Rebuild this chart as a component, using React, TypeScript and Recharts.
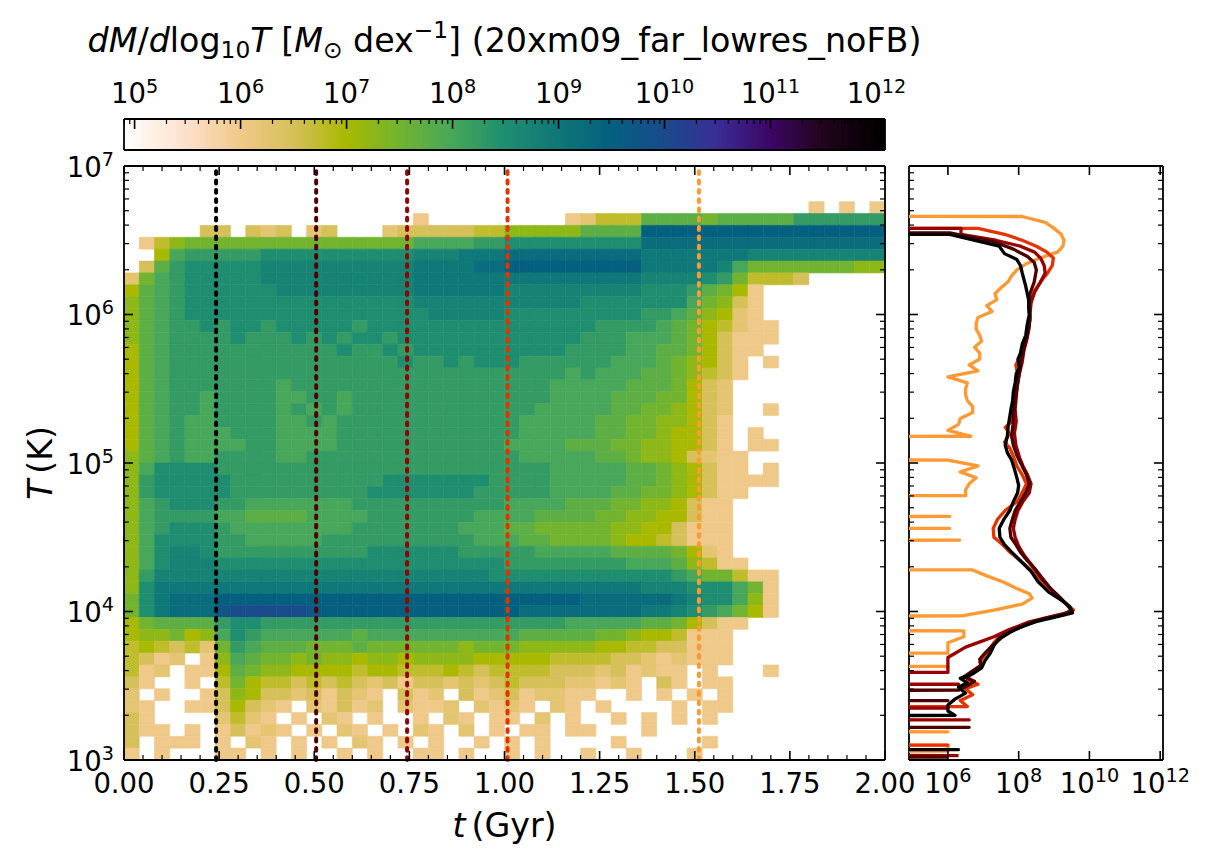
import React from 'react';
import { ScatterChart, Scatter, XAxis, YAxis, ReferenceArea, ReferenceLine } from 'recharts';

const FONT = '"DejaVu Sans", "Liberation Sans", sans-serif';
const TICK_FS = 27.5;
const LABEL_FS = 33.3;

// ---------------- data ----------------
// snapshot times (Gyr) marked by dotted lines, and their profiles in the side panel
const snapshotTimes = [0.242, 0.505, 0.744, 1.008, 1.511];
const snapshotColors = ['#000000', '#4c0000', '#990000', '#e53300', '#ff9933'];

// 2D histogram: columns = time bins of 0.04 Gyr from 0, rows = log10 T bins of 0.08 dex from 7 downward
const tBinWidth = 0.04;
const logTTop = 7;
const logTBinHeight = 0.08;
// '.' = empty bin, otherwise log10(dM/dlog10T) = 6 + 0.25 * index in LEVELS
const LEVELS = '0123456789abcdefg';
const heatRows = [
  '.......... .......... .......... .......... ..........',
  '.......... .......... .......... .......... ..........',
  '.......... .......... .......... .......... ..........',
  '.......... .......... .......... .......... .....0.0.0',
  '.......... .........0 .........0 1333777767 7777999999',
  '.....22.21 2.12...122 2223355555 7777eeeeee eeeeeeeeee',
  '.035666666 6666666668 88899aaaaa aaaadddddd dddddddddd',
  '..4899999a aaaaaaaaab bbcccddddd ddddcccccc cbbbbbbbbb',
  '.279aaaaab bbbbbbbbbc cccddeeeee eeeecccccb 8666666655',
  '1689aaaaab bbbbbbbbbc cccccccccc ccccbbbba9 63332.....',
  '4789aaaaaa bbbbbbbbbc cccccbbbbb bbbbaaa976 40........',
  '5789aaaaaa aaaaaaaaab bbbbbbbbbb aaaaaaa865 20........',
  '5789aaaaaa aaaaaaaaaa bbbbbaaaaa aaaa998754 10........',
  '57899a9aa9 aaaaa9aaaa aaaaaaaaaa a999987643 100.......',
  '5789999a99 9a9a9aa9aa aaaaaaaaaa 9998887642 000.......',
  '4789999999 9999a99a9a aaaaaaaaa9 9998877642 00........',
  '4789999999 99999999a9 9a9aaa9999 9988876542 0.0.......',
  '4789999999 9999999999 9999999998 9888776532 0.........',
  '4789999999 8999999999 9999999988 8887776421 ..........',
  '4789989999 8899899999 9999999988 8877766421 ..........',
  '4789989999 8989899999 9999999888 8877665421 ..0.......',
  '4789889999 8898999999 9999998888 8776655420 ..........',
  '4789888999 8888999999 9999998888 8776654420 .0........',
  '4789888899 8888999999 9999988887 7766554420 .00.......',
  '5789889999 8899999999 9999998888 8776554210 0.........',
  '58aaaa9999 9999999999 9999999988 8887765420 0.0.......',
  '59aaaaa999 9999999aaa aaaa999988 8887765420 000.......',
  '59aaaaa999 999999aaaa aaa9999988 8877665420 0.........',
  '589aaa9988 8888899999 9999988887 7766554200 ..........',
  '5899998877 7788889999 9998888777 7665544200 ..........',
  '589aaa9888 8888899999 9988877666 6655442000 ..........',
  '58aaaa9988 8889999999 9998887766 6654432000 ..........',
  '58abba9999 999999aaaa aa99999888 8877776410 ..........',
  '58abbbaaaa aaaaaaaaaa aaaaa99999 9998887530 0.........',
  '59bbbbbbbb bbbbbbbbbb bbbbaaaaaa aaaaaa9866 300.......',
  '5acccccccc cccccccccc cccccccccc ccccbbbaaa 860.......',
  '6acdddeeee eeeeeeeeee eeeeeeeeee ddddddcbaa 850.......',
  '6acdddfggg ggfeeeeeee eeeeeedddd ddddccba98 640.......',
  '4677779aa9 9999999999 9999999998 8888776420 0.........',
  '4556458a98 8888878888 8888887777 7665443000 ..........',
  '3432316987 7766676666 6656665555 5443322000 ..........',
  '3201.05876 6565545545 5554444433 3322101000 ..........',
  '301.004765 5444434433 3432333322 2120100.0. ..0.......',
  '20..0.3643 3232321202 2121232221 1010.20.00 ..........',
  '1.0..02542 2120210.20 1.20120110 0..0.0.0.0 ..........',
  '10..002421 0.10201.10 01.1010.10 .0....0.00 ..........',
  '20....1310 .0.10.0..0 .10.00.1.0 ..0.0.0.0. ..........',
  '200.0.0201 0.0.10.0.1 0.1.0.00.0 0...0..... ..........',
  '2.000.0.10 .0.0.10.0. 0..0.0.0.. ..0.....0. ..........',
  '0.0...00.0 .0..0.0..0 0.0..0.0.. 0..0...0.. ..........',
];

// side-panel profiles: [log10 T, log10 dM/dlog10T]; null = empty bin
type P = [number, number | null];
const profile024: P[] = [
  [6.58, null], [6.54, 6.05], [6.46, 7.45], [6.41, 7.6], [6.37, 7.95], [6.33, 8.05], [6.28, 8.1], [6.19, 8.2],
  [6.10, 8.28], [6.0, 8.3], [5.93, 8.24], [5.86, 8.2], [5.80, 8.1], [5.74, 8.05], [5.70, 7.98], [5.64, 8.02],
  [5.60, 7.93], [5.54, 7.9], [5.48, 7.85], [5.42, 7.83], [5.36, 7.78], [5.30, 7.74], [5.24, 7.7], [5.18, 7.68],
  [5.12, 7.62], [5.07, 7.68], [5.02, 7.8], [4.96, 7.88], [4.90, 7.95], [4.85, 8.0], [4.80, 7.97], [4.74, 7.85],
  [4.68, 7.75], [4.62, 7.58], [4.56, 7.45], [4.50, 7.47], [4.45, 7.6], [4.40, 7.8], [4.33, 8.1], [4.27, 8.35],
  [4.20, 8.55], [4.13, 8.85], [4.07, 9.25], [4.03, 9.45], [3.99, 9.52], [3.96, 9.0], [3.93, 8.45], [3.88, 7.9],
  [3.82, 7.45], [3.77, 7.3], [3.72, 7.2], [3.67, 7.05], [3.62, 6.95], [3.58, 6.7], [3.55, 6.35], [3.52, 6.55],
  [3.49, 6.3], [3.45, 6.5], [3.41, 6.2], [3.37, 6.0], [3.33, 6.0], [3.30, 6.2], [3.26, null], [3.11, null],
  [3.07, 6.3], [3.03, null],
];
const profile050: P[] = [
  [6.59, null], [6.55, 6.05], [6.49, 7.3], [6.44, 7.85], [6.39, 8.25], [6.35, 8.44], [6.30, 8.5], [6.22, 8.44],
  [6.14, 8.32], [6.06, 8.28], [5.98, 8.32], [5.90, 8.28], [5.82, 8.2], [5.74, 8.12], [5.66, 8.05], [5.58, 8.0],
  [5.50, 7.95], [5.42, 7.9], [5.34, 7.86], [5.26, 7.84], [5.18, 7.8], [5.12, 7.85], [5.05, 7.95], [4.98, 8.1],
  [4.92, 8.22], [4.86, 8.3], [4.80, 8.2], [4.74, 8.05], [4.68, 7.9], [4.62, 7.82], [4.56, 7.75], [4.50, 7.78],
  [4.45, 7.92], [4.40, 8.05], [4.34, 8.25], [4.28, 8.48], [4.22, 8.66], [4.16, 8.88], [4.10, 9.15], [4.05, 9.35],
  [4.01, 9.48], [3.98, 9.3], [3.95, 8.7], [3.91, 8.2], [3.86, 7.75], [3.82, 7.5], [3.77, 7.25], [3.72, 7.05],
  [3.68, 6.9], [3.64, 6.95], [3.60, 6.7], [3.56, 6.45], [3.53, 6.75], [3.50, 6.55], [3.47, 6.3], [3.44, null],
  [3.40, 6.0], [3.36, null], [3.26, null], [3.22, 6.6], [3.18, null], [3.06, null], [3.02, 6.0],
];
const profile074: P[] = [
  [6.62, null], [6.58, 6.37], [6.54, 6.37], [6.50, 7.35], [6.46, 8.05], [6.42, 8.45], [6.38, 8.62], [6.33, 8.72],
  [6.28, 8.75], [6.22, 8.62], [6.15, 8.45], [6.08, 8.35], [6.00, 8.32], [5.92, 8.3], [5.84, 8.24], [5.76, 8.15],
  [5.68, 8.1], [5.60, 8.02], [5.52, 7.96], [5.44, 7.93], [5.36, 7.9], [5.28, 7.93], [5.20, 7.88], [5.12, 7.92],
  [5.04, 8.02], [4.98, 8.12], [4.92, 8.25], [4.86, 8.35], [4.80, 8.3], [4.74, 8.12], [4.68, 7.98], [4.62, 7.9],
  [4.56, 7.85], [4.50, 7.9], [4.44, 8.0], [4.38, 8.15], [4.32, 8.35], [4.26, 8.55], [4.20, 8.75], [4.14, 8.95],
  [4.08, 9.2], [4.04, 9.4], [4.00, 9.52], [3.97, 9.0], [3.93, 8.3], [3.88, 7.75], [3.83, 7.3], [3.76, 6.5],
  [3.69, 6.0], [3.63, 6.0], [3.59, 6.0], [3.55, null], [3.51, 6.3], [3.47, null], [3.39, null], [3.35, 6.0],
  [3.31, null], [3.27, 6.6], [3.23, null], [3.07, null], [3.03, 6.3],
];
const profile101: P[] = [
  [6.62, null], [6.58, 6.85], [6.54, 7.6], [6.50, 8.1], [6.46, 8.5], [6.42, 8.8], [6.38, 8.98], [6.33, 8.95],
  [6.28, 8.82], [6.22, 8.62], [6.16, 8.45], [6.10, 8.36], [6.03, 8.3], [5.96, 8.32], [5.88, 8.24], [5.80, 8.15],
  [5.72, 8.05], [5.66, 7.92], [5.60, 7.97], [5.52, 7.9], [5.44, 7.86], [5.36, 7.82], [5.28, 7.8], [5.24, 7.62],
  [5.20, 7.74], [5.14, 7.6], [5.10, 7.75], [5.04, 7.86], [4.98, 7.95], [4.92, 8.1], [4.86, 8.22], [4.80, 8.1],
  [4.74, 7.95], [4.68, 7.62], [4.62, 7.4], [4.56, 7.28], [4.50, 7.3], [4.46, 7.5], [4.40, 7.75], [4.34, 8.05],
  [4.28, 8.35], [4.22, 8.6], [4.16, 8.85], [4.10, 9.1], [4.05, 9.35], [4.01, 9.55], [3.98, 9.2], [3.95, 8.7],
  [3.91, 8.2], [3.87, 7.75], [3.83, 7.45], [3.79, 7.3], [3.75, 7.2], [3.71, 7.05], [3.66, 6.9], [3.62, 6.95],
  [3.58, 6.65], [3.54, 6.55], [3.51, 6.85], [3.48, 6.5], [3.44, 6.7], [3.40, 6.35], [3.36, 6.55], [3.33, null],
  [3.14, null], [3.10, 6.0], [3.06, null],
];
const profile151: P[] = [
  [6.70, null], [6.66, 8.1], [6.62, 8.75], [6.58, 9.0], [6.54, 9.2], [6.50, 9.28], [6.46, 9.25], [6.42, 9.1],
  [6.38, 8.6], [6.34, 8.2], [6.30, 7.95], [6.26, 7.8], [6.22, 7.7], [6.18, 7.5], [6.14, 7.33], [6.10, 7.38],
  [6.06, 7.1], [6.02, 7.25], [5.98, 6.85], [5.94, 6.8], [5.90, 6.8], [5.86, 6.9], [5.82, 6.95], [5.78, 6.75],
  [5.74, 6.9], [5.70, 6.9], [5.66, 6.6], [5.62, 6.85], [5.58, 6.0], [5.54, 6.55], [5.50, 6.5], [5.46, 6.5],
  [5.42, 6.55], [5.38, 6.7], [5.34, 6.7], [5.30, 6.35], [5.26, 6.3], [5.22, 6.0], [5.18, 6.65], [5.14, null],
  [5.06, null], [5.02, 6.0], [4.98, 6.85], [4.94, 6.35], [4.90, 6.8], [4.86, 6.6], [4.82, 6.5], [4.78, 6.5],
  [4.74, null], [4.68, null], [4.64, 6.05], [4.60, null], [4.56, 6.05], [4.52, null], [4.48, 6.33], [4.44, null],
  [4.32, null], [4.28, 6.7], [4.24, 7.1], [4.20, 7.55], [4.16, 7.9], [4.12, 8.3], [4.09, 8.38], [4.05, 8.1],
  [4.01, 7.3], [3.97, 6.4], [3.93, null], [3.91, null], [3.87, 6.45], [3.83, 6.45], [3.79, 6.0], [3.72, 6.0],
  [3.68, null], [3.67, null], [3.63, 6.0], [3.59, null], [3.23, null], [3.19, 6.0], [3.15, null], [3.14, null],
  [3.10, 6.0], [3.06, 6.0], [3.02, null],
];
const profiles = [profile024, profile050, profile074, profile101, profile151];

// axis / colour-scale limits
const tDomain = [0, 2];
const logTDomain = [3, 7];
const massDomain = [4.9, 12.08];
const massMajorTicksSide = [6, 8, 10, 12];

// ---------------- colour map (gist_earth_r like) ----------------
const cmapStops: [number, string][] = [
  [4.9, '#ffffff'], [5.5, '#fce0cb'], [6.0, '#efc98a'], [6.5, '#d6c05a'], [7.0, '#a9b900'],
  [7.5, '#72b430'], [8.0, '#48a75a'], [8.5, '#1f8e70'], [9.0, '#0f7878'], [9.5, '#05607f'],
  [10.0, '#1a4c8c'], [10.5, '#3a2e96'], [11.0, '#3d0766'], [11.5, '#22061c'], [12.08, '#000000'],
];
const hexRgb = (h: string) => [1, 3, 5].map((i) => parseInt(h.slice(i, i + 2), 16));
function cmap(v: number): string {
  if (v <= cmapStops[0][0]) return cmapStops[0][1];
  for (let i = 1; i < cmapStops.length; i++) {
    const [v1, c1] = cmapStops[i];
    if (v <= v1) {
      const [v0, c0] = cmapStops[i - 1];
      const f = (v - v0) / (v1 - v0);
      const a = hexRgb(c0);
      const b = hexRgb(c1);
      const m = a.map((x, k) => Math.round(x + (b[k] - x) * f));
      return `rgb(${m[0]},${m[1]},${m[2]})`;
    }
  }
  return cmapStops[cmapStops.length - 1][1];
}

// ---------------- derived structures ----------------
const r4 = (x: number) => Math.round(x * 10000) / 10000;
const heatCells: { t0: number; t1: number; y0: number; y1: number; c: string }[] = [];
heatRows.forEach((row, i) => {
  const s = row.replace(/ /g, '');
  for (let j = 0; j < s.length; j++) {
    const k = LEVELS.indexOf(s[j]);
    if (k < 0) continue;
    heatCells.push({
      t0: r4(j * tBinWidth),
      t1: r4((j + 1) * tBinWidth),
      y0: r4(logTTop - (i + 1) * logTBinHeight),
      y1: r4(logTTop - i * logTBinHeight),
      c: cmap(6 + 0.25 * k),
    });
  }
});

const cbarSlices: { a: number; b: number; c: string }[] = [];
for (let v = massDomain[0]; v < massDomain[1] - 1e-9; v += 0.02) {
  const b = Math.min(v + 0.02, massDomain[1]);
  cbarSlices.push({ a: r4(v), b: r4(b), c: cmap((v + b) / 2) });
}

const FLOOR = -300; // empty bins drawn far left (clipped), like log-scale clipping
const profileSeries = profiles.map((p) => p.map(([lt, m]) => ({ x: m === null ? FLOOR : m, y: lt })));

const minorLog = (lo: number, hi: number, dmin: number, dmax: number) => {
  const out: number[] = [];
  for (let n = lo; n <= hi; n++) {
    out.push(n);
    for (let k = 2; k <= 9; k++) out.push(n + Math.log10(k));
  }
  return out.filter((v) => v >= dmin - 1e-9 && v <= dmax + 1e-9);
};
const tTicks = Array.from({ length: 41 }, (_, k) => r4(k * 0.05));
const logTTicks = minorLog(3, 7, 3, 7);
const cbarTicks = minorLog(4, 12, massDomain[0], massDomain[1]);

const isTMajor = (v: number) => Math.abs(v * 4 - Math.round(v * 4)) < 1e-6;
const isInt = (v: number) => Math.abs(v - Math.round(v)) < 1e-6;

// ---------------- rendering helpers ----------------
const renderNothing = () => <g />;
const AXIS_LINE = { stroke: '#000', strokeWidth: 1.8 };

const pow10 = (n: number, fs: number) => (
  <>
    <tspan>10</tspan>
    <tspan dy={-0.385 * fs} fontSize={0.7 * fs}>
      {n}
    </tspan>
  </>
);

type Side = 'bottom' | 'top' | 'left' | 'right';
function makeTick(side: Side, isMajor: (v: number) => boolean, majorLen: number, minorLen: number, label?: (v: number, x: number, y: number) => React.ReactNode) {
  return (props: any) => {
    const { x, y, payload } = props;
    const v = payload.value as number;
    const major = isMajor(v);
    const len = major ? majorLen : minorLen;
    if (len <= 0 && !label) return <g />;
    let x2 = x;
    let y2 = y;
    if (side === 'bottom') y2 = y - len;
    if (side === 'top') y2 = y + len;
    if (side === 'left') x2 = x + len;
    if (side === 'right') x2 = x - len;
    return (
      <g>
        {len > 0 && <line x1={x} y1={y} x2={x2} y2={y2} stroke="#000" strokeWidth={major ? 1.6 : 1.2} />}
        {major && label ? label(v, x, y) : null}
      </g>
    );
  };
}

const tLabel = (v: number, x: number, y: number) => (
  <text x={x} y={y + 33} textAnchor="middle" fontSize={TICK_FS} fontFamily={FONT} fill="#000">
    {v.toFixed(2)}
  </text>
);
const logTLabel = (v: number, x: number, y: number) => (
  <text x={x - 10} y={y + 10.5} textAnchor="end" fontSize={TICK_FS} fontFamily={FONT} fill="#000">
    {pow10(Math.round(v), TICK_FS)}
  </text>
);
const massLabelBottom = (v: number, x: number, y: number) => (
  <text x={x} y={y + 33} textAnchor="middle" fontSize={TICK_FS} fontFamily={FONT} fill="#000">
    {pow10(Math.round(v), TICK_FS)}
  </text>
);
const massLabelTop = (v: number, x: number, y: number) => (
  <text x={x} y={y - 15.7} textAnchor="middle" fontSize={TICK_FS} fontFamily={FONT} fill="#000">
    {pow10(Math.round(v), TICK_FS)}
  </text>
);

const tickBottomT = makeTick('bottom', isTMajor, 9, 5, tLabel);
const tickTopT = makeTick('top', isTMajor, 9, 5);
const tickLeftLogT = makeTick('left', isInt, 9, 5, logTLabel);
const tickLeftLogTPlain = makeTick('left', isInt, 9, 5);
const tickRightLogT = makeTick('right', isInt, 9, 5);
const tickBottomMass = makeTick('bottom', isInt, 9, 0, massLabelBottom);
const tickTopMass = makeTick('top', isInt, 9, 0);
const tickCbar = makeTick('top', isInt, 10, 5, massLabelTop);

const vbOf = (props: any, fallback: { x: number; y: number; width: number; height: number }) =>
  props && props.viewBox && typeof props.viewBox.x === 'number' ? props.viewBox : fallback;

const xLabelMain = (props: any) => {
  const vb = vbOf(props, { x: 124, y: 760, width: 761, height: 60 });
  return (
    <text x={vb.x + vb.width / 2} y={vb.y + 77} textAnchor="middle" fontSize={LABEL_FS} fontFamily={FONT} fill="#000">
      <tspan fontStyle="italic">t</tspan>
      <tspan dx={6}>(Gyr)</tspan>
    </text>
  );
};
const yLabelMain = (props: any) => {
  const vb = vbOf(props, { x: 24, y: 166, width: 100, height: 594 });
  const cx = vb.x + 28;
  const cy = vb.y + vb.height / 2;
  return (
    <text x={cx} y={cy} transform={`rotate(-90, ${cx}, ${cy})`} textAnchor="middle" fontSize={LABEL_FS} fontFamily={FONT} fill="#000">
      <tspan fontStyle="italic">T</tspan>
      <tspan dx={6}>(K)</tspan>
    </text>
  );
};
const titleLabel = (props: any) => {
  const vb = vbOf(props, { x: 124, y: 79, width: 761, height: 40 });
  const fs = LABEL_FS;
  const sfs = 0.7 * fs;
  return (
    <text x={vb.x + vb.width / 2} y={vb.y - 27.3} textAnchor="middle" fontSize={fs} fontFamily={FONT} fill="#000">
      <tspan fontStyle="italic">dM</tspan>
      <tspan>/</tspan>
      <tspan fontStyle="italic">d</tspan>
      <tspan>log</tspan>
      <tspan dy={6.6} fontSize={sfs}>10</tspan>
      <tspan dy={-6.6} fontStyle="italic">T</tspan>
      <tspan> [</tspan>
      <tspan fontStyle="italic">M</tspan>
      <tspan dy={6.6} fontSize={sfs}>⊙</tspan>
      <tspan dy={-6.6}> dex</tspan>
      <tspan dy={-14} fontSize={sfs}>−1</tspan>
      <tspan dy={14}>] (20xm09_far_lowres_noFB)</tspan>
    </text>
  );
};

// ---------------- panels ----------------
function MainPanel() {
  const anchor = [{ x: tDomain[0], y: logTDomain[0] }, { x: tDomain[1], y: logTDomain[1] }];
  return (
    <ScatterChart width={930} height={866} margin={{ top: 156, right: 35, bottom: 46, left: 24 }}>
      {heatCells.map((c, k) => (
        <ReferenceArea key={'c' + k} x1={c.t0} x2={c.t1} y1={c.y0} y2={c.y1} fill={c.c} fillOpacity={1} stroke={c.c} strokeWidth={0.6} ifOverflow="visible" />
      ))}
      {snapshotTimes.map((t, k) => (
        <ReferenceLine key={'s' + k} x={t} stroke={snapshotColors[k]} strokeWidth={4} strokeDasharray="2.8 6.5" strokeLinecap="round" ifOverflow="visible" />
      ))}
      <Scatter data={anchor} shape={renderNothing} isAnimationActive={false} />
      <Scatter data={anchor} xAxisId="top" yAxisId="right" shape={renderNothing} isAnimationActive={false} />
      <XAxis dataKey="x" type="number" domain={tDomain} allowDataOverflow ticks={tTicks} interval={0} height={60} tickSize={0} tickMargin={0} tickLine={false} axisLine={AXIS_LINE} tick={tickBottomT} label={xLabelMain} />
      <XAxis xAxisId="top" orientation="top" dataKey="x" type="number" domain={tDomain} allowDataOverflow ticks={tTicks} interval={0} height={10} tickSize={0} tickMargin={0} tickLine={false} axisLine={AXIS_LINE} tick={tickTopT} />
      <YAxis dataKey="y" type="number" domain={logTDomain} allowDataOverflow ticks={logTTicks} interval={0} width={100} tickSize={0} tickMargin={0} tickLine={false} axisLine={AXIS_LINE} tick={tickLeftLogT} label={yLabelMain} />
      <YAxis yAxisId="right" orientation="right" dataKey="y" type="number" domain={logTDomain} allowDataOverflow ticks={logTTicks} interval={0} width={10} tickSize={0} tickMargin={0} tickLine={false} axisLine={AXIS_LINE} tick={tickRightLogT} />
    </ScatterChart>
  );
}

function SidePanel() {
  const anchor = [{ x: massDomain[0], y: logTDomain[0] }, { x: massDomain[1], y: logTDomain[1] }];
  const order = [4, 3, 2, 1, 0];
  return (
    <ScatterChart width={351} height={866} margin={{ top: 156, right: 38, bottom: 46, left: 0 }}>
      {order.map((k) => (
        <Scatter
          key={'p' + k}
          data={profileSeries[k]}
          fill={snapshotColors[k]}
          line={{ stroke: snapshotColors[k], strokeWidth: 3.3, strokeLinejoin: 'round', fill: 'none' }}
          lineType="joint"
          shape={renderNothing}
          isAnimationActive={false}
        />
      ))}
      <Scatter data={anchor} xAxisId="top" yAxisId="right" shape={renderNothing} isAnimationActive={false} />
      <XAxis dataKey="x" type="number" domain={massDomain} allowDataOverflow ticks={massMajorTicksSide} interval={0} height={60} tickSize={0} tickMargin={0} tickLine={false} axisLine={AXIS_LINE} tick={tickBottomMass} />
      <XAxis xAxisId="top" orientation="top" dataKey="x" type="number" domain={massDomain} allowDataOverflow ticks={massMajorTicksSide} interval={0} height={10} tickSize={0} tickMargin={0} tickLine={false} axisLine={AXIS_LINE} tick={tickTopMass} />
      <YAxis dataKey="y" type="number" domain={logTDomain} allowDataOverflow ticks={logTTicks} interval={0} width={49} tickSize={0} tickMargin={0} tickLine={false} axisLine={AXIS_LINE} tick={tickLeftLogTPlain} />
      <YAxis yAxisId="right" orientation="right" dataKey="y" type="number" domain={logTDomain} allowDataOverflow ticks={logTTicks} interval={0} width={10} tickSize={0} tickMargin={0} tickLine={false} axisLine={AXIS_LINE} tick={tickRightLogT} />
    </ScatterChart>
  );
}

function ColorBar() {
  const anchor = [{ x: massDomain[0], y: 0 }, { x: massDomain[1], y: 1 }];
  return (
    <ScatterChart width={930} height={170} margin={{ top: 79, right: 44, bottom: 19, left: 0 }}>
      {cbarSlices.map((s, k) => (
        <ReferenceArea key={'b' + k} x1={s.a} x2={s.b} y1={0} y2={1} fill={s.c} fillOpacity={1} stroke={s.c} strokeWidth={1.5} ifOverflow="hidden" />
      ))}
      <Scatter data={anchor} shape={renderNothing} isAnimationActive={false} />
      <Scatter data={anchor} xAxisId="top" yAxisId="right" shape={renderNothing} isAnimationActive={false} />
      <XAxis dataKey="x" type="number" domain={massDomain} allowDataOverflow height={1} tick={false} tickLine={false} axisLine={AXIS_LINE} />
      <XAxis xAxisId="top" orientation="top" dataKey="x" type="number" domain={massDomain} allowDataOverflow ticks={cbarTicks} interval={0} height={40} tickSize={0} tickMargin={0} tickLine={false} axisLine={AXIS_LINE} tick={tickCbar} label={titleLabel} />
      <YAxis dataKey="y" type="number" domain={[0, 1]} allowDataOverflow width={124} tick={false} tickLine={false} axisLine={AXIS_LINE} />
      <YAxis yAxisId="right" orientation="right" dataKey="y" type="number" domain={[0, 1]} allowDataOverflow width={1} tick={false} tickLine={false} axisLine={AXIS_LINE} />
    </ScatterChart>
  );
}

export default function App() {
  return (
    <div style={{ position: 'absolute', left: 0, top: 0, width: 1211, height: 866, background: '#fff', overflow: 'hidden' }}>
      <div style={{ position: 'absolute', left: 0, top: 0 }}>
        <ColorBar />
      </div>
      <div style={{ position: 'absolute', left: 0, top: 0 }}>
        <MainPanel />
      </div>
      <div style={{ position: 'absolute', left: 860, top: 0 }}>
        <SidePanel />
      </div>
    </div>
  );
}
